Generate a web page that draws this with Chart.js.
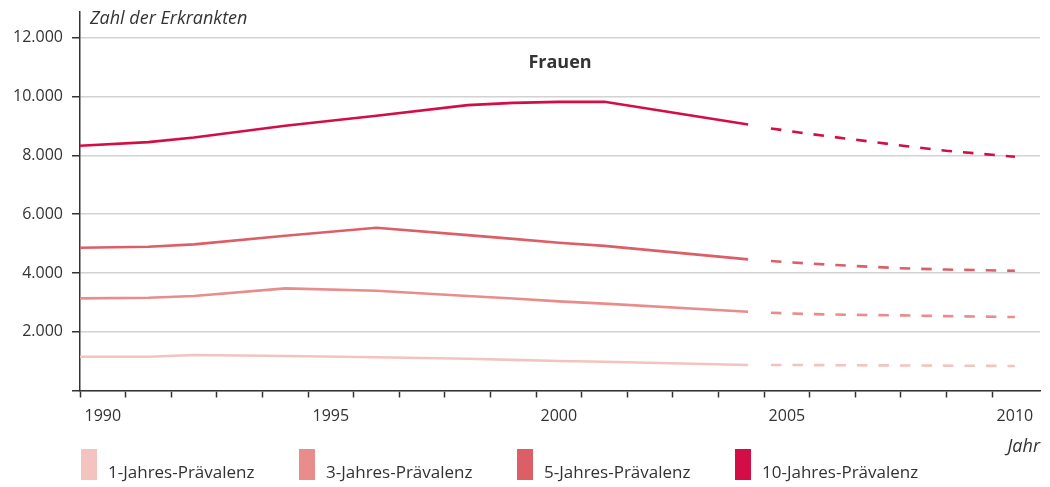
<!DOCTYPE html>
<html lang="de">
<head>
<meta charset="utf-8">
<title>Prävalenz Frauen</title>
<script src="https://cdn.jsdelivr.net/npm/chart.js@4.4.1/dist/chart.umd.min.js"></script>
<style>
  html, body { margin: 0; padding: 0; background: #fff; }
  #wrap { position: relative; width: 1050px; height: 487px; }
</style>
</head>
<body>
<div id="wrap"><canvas id="chart" width="1050" height="487"></canvas></div>
<script>
// Jahre (Lage der Stützpunkte)
const jahre      = [1990, 1991.5, 1992.5, 1994.5, 1996.5, 1998.5, 1999.5, 2000.5, 2001.5, 2004.65];
const jahreProg  = [2005.15, 2006, 2007, 2008, 2009, 2010.5];

// gemessene Werte
const praev1  = [1150, 1150, 1207, 1173, 1129, 1078, 1041, 1003, 976, 867];
const praev3  = [3136, 3156, 3214, 3476, 3395, 3218, 3129, 3034, 2956, 2680];
const praev5  = [4857, 4891, 4973, 5265, 5537, 5286, 5160, 5027, 4922, 4463];
const praev10 = [8327, 8452, 8612, 9007, 9347, 9711, 9789, 9823, 9823, 9054];

// Prognose (gestrichelt)
const prog1  = [870, 865, 858, 852, 845, 835];
const prog3  = [2646, 2600, 2575, 2555, 2530, 2500];
const prog5  = [4405, 4320, 4235, 4160, 4115, 4075];
const prog10 = [8918, 8731, 8534, 8337, 8157, 7952];

const labels  = ['1-Jahres-Prävalenz', '3-Jahres-Prävalenz', '5-Jahres-Prävalenz', '10-Jahres-Prävalenz'];
const farben  = ['#f3c4bf', '#e88d8c', '#dc5e67', '#d30d45'];
const yTicks  = [0, 2000, 4000, 6000, 8000, 10000, 12000];
const xLabels = [1990, 1995, 2000, 2005, 2010];

const TXT  = '#333333';
const FONT = '"Open Sans", "Noto Sans", sans-serif';

const toPts = (xs, ys) => xs.map((x, i) => ({ x, y: ys[i] }));

const ist  = [praev1, praev3, praev5, praev10];
const prog = [prog1, prog3, prog5, prog10];

const datasets = [];
ist.forEach((d, i) => datasets.push({
  label: labels[i], data: toPts(jahre, d),
  borderColor: farben[i], borderWidth: 2.6, pointRadius: 0, tension: 0,
  borderCapStyle: 'butt'
}));
prog.forEach((d, i) => datasets.push({
  label: labels[i] + ' (Prognose)', data: toPts(jahreProg, d),
  borderColor: farben[i], borderWidth: 2.6, pointRadius: 0, tension: 0,
  borderDash: [10.5, 11], borderCapStyle: 'butt'
}));

// Beschriftungen, Titel und Legende
const extras = {
  id: 'extras',
  afterDraw(chart) {
    const c = chart.ctx, a = chart.chartArea;
    c.save();
    c.fillStyle = TXT;
    c.textBaseline = 'alphabetic';

    c.font = 'italic 18px ' + FONT;
    c.textAlign = 'left';
    c.fillText('Zahl der Erkrankten', a.left + 10, 24);

    c.textAlign = 'right';
    c.fillText('Jahr', a.right, 452);

    c.font = 'bold 18px ' + FONT;
    c.textAlign = 'center';
    c.fillText('Frauen', (a.left + a.right) / 2, 68);

    // Legende
    c.font = '17px ' + FONT;
    c.textAlign = 'left';
    labels.forEach((l, i) => {
      const x = 81 + i * 218;
      c.fillStyle = farben[i];
      c.fillRect(x, 449, 16, 31);
      c.fillStyle = TXT;
      c.fillText(l, x + 27, 478);
    });
    c.restore();
  }
};

new Chart(document.getElementById('chart'), {
  type: 'line',
  data: { datasets },
  options: {
    responsive: false,
    animation: false,
    events: [],
    layout: { padding: { top: 12, right: 10, bottom: 66, left: 0 } },
    plugins: { legend: { display: false }, tooltip: { enabled: false } },
    scales: {
      x: {
        type: 'linear',
        min: 1990, max: 2011.05,
        afterFit: s => { s.height = 30.5; s.paddingLeft = 0; s.paddingRight = 0; },
        ticks: {
          stepSize: 1, includeBounds: false, autoSkip: false, maxRotation: 0,
          labelOffset: 22.8, padding: 9,
          color: TXT, font: { family: FONT, size: 16 },
          callback: v => xLabels.includes(v) ? String(v) : ''
        },
        grid: {
          drawOnChartArea: false, drawTicks: true, tickLength: 7, tickWidth: 1.5,
          tickColor: ctx => (ctx.tick && ctx.tick.value > 2010) ? 'rgba(0,0,0,0)' : TXT
        },
        border: { color: TXT, width: 1.5 }
      },
      y: {
        min: 0, max: 12880,
        afterFit: s => { s.width = 80; s.paddingTop = 0; s.paddingBottom = 0; },
        afterBuildTicks: s => { s.ticks = yTicks.map(v => ({ value: v })); },
        ticks: {
          includeBounds: false, padding: 9,
          color: TXT, font: { family: FONT, size: 16 },
          callback: v => v === 0 ? '' : v.toLocaleString('de-DE')
        },
        grid: {
          color: '#d2d2d2', lineWidth: 1.5,
          drawTicks: true, tickLength: 8, tickWidth: 1.5, tickColor: TXT
        },
        border: { color: TXT, width: 1.5 }
      }
    }
  },
  plugins: [extras]
});
</script>
</body>
</html>
